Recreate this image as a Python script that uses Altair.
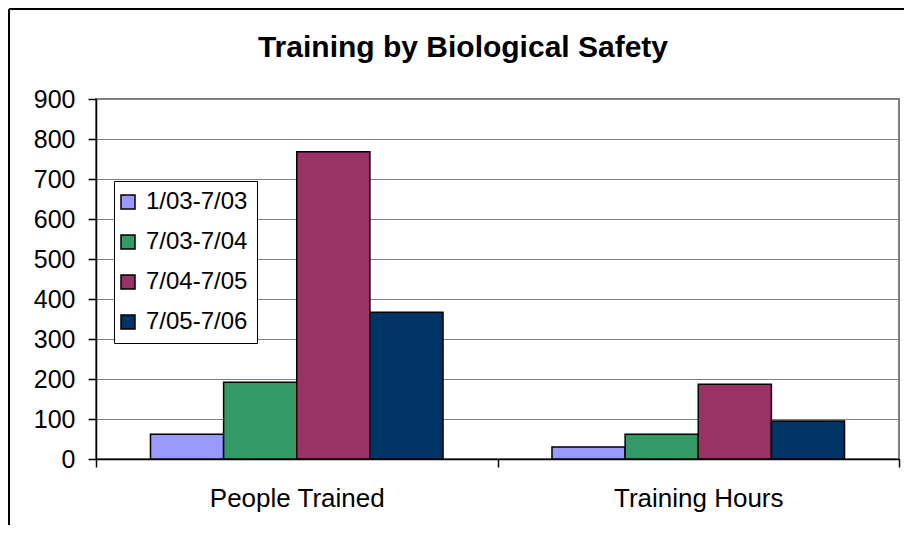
import altair as alt
import pandas as pd

title_text = ["Training by Biological Safety"]
categories = ["People Trained", "Training Hours"]
periods = ["1/03-7/03", "7/03-7/04", "7/04-7/05", "7/05-7/06"]
people_trained = [62, 192, 768, 367]
training_hours = [30, 62, 187, 95]
colors = ["#9999FF", "#339966", "#993366", "#003366"]
y_ticks = [0, 100, 200, 300, 400, 500, 600, 700, 800, 900]

rows = []
for cat, vals in zip(categories, [people_trained, training_hours]):
    for p, v in zip(periods, vals):
        rows.append({"category": cat, "period": p, "value": v})
df = pd.DataFrame(rows)

FONT = "Liberation Sans"

bars = alt.Chart(df).mark_bar(stroke="black", strokeWidth=1.5).encode(
    x=alt.X(
        "category:N",
        sort=categories,
        scale=alt.Scale(paddingInner=0, paddingOuter=0),
        axis=alt.Axis(
            title=None, labelAngle=0, tickBand="extent", grid=False,
            domainColor="black", domainWidth=1.5, tickColor="black", tickWidth=1.5,
            tickSize=8, labelFontSize=26, labelFont=FONT, labelColor="black",
            labelBaseline="alphabetic", labelPadding=39,
        ),
    ),
    xOffset=alt.XOffset(
        "period:N", sort=periods,
        scale=alt.Scale(paddingOuter=0.745, paddingInner=0),
    ),
    y=alt.Y(
        "value:Q",
        scale=alt.Scale(domain=[0, 900], nice=False),
        axis=alt.Axis(
            values=y_ticks, title=None, domainColor="black", domainWidth=1.5,
            tickColor="black", tickWidth=1.5, tickSize=8, labelFontSize=25,
            labelFont=FONT, labelColor="black", labelPadding=13,
            gridColor="#808080", gridWidth=1,
        ),
    ),
    color=alt.Color(
        "period:N", sort=periods,
        scale=alt.Scale(domain=periods, range=colors),
        legend=alt.Legend(
            title=None, orient="none", legendX=18, legendY=82,
            symbolType="square", symbolSize=196, symbolStrokeColor="black",
            symbolStrokeWidth=1.5, symbolOffset=-7, labelFontSize=24, labelFont=FONT,
            labelColor="black", rowPadding=16, padding=9, labelOffset=6,
            fillColor="white", strokeColor="black",
        ),
    ),
)

title_df = pd.DataFrame({"t": title_text})
title = alt.Chart(title_df).mark_text(
    font=FONT, fontSize=30, fontWeight="bold", color="black",
    align="center", baseline="alphabetic",
).encode(x=alt.value(367), y=alt.value(-42), text="t:N")

frame_df = pd.DataFrame({"k": [0]})
frame_top = alt.Chart(frame_df).mark_rule(color="black", strokeWidth=2).encode(
    x=alt.value(-87), x2=alt.value(812), y=alt.value(-90)
)
frame_left = alt.Chart(frame_df).mark_rule(color="black", strokeWidth=2).encode(
    x=alt.value(-87), y=alt.value(-90), y2=alt.value(430)
)

chart = alt.layer(bars, title, frame_top, frame_left).properties(
    width=803,
    height=360,
    autosize=alt.AutoSizeParams(type="none"),
    padding={"left": 88, "top": 91, "right": 5, "bottom": 66},
).configure_view(stroke="#808080", strokeWidth=2)

chart.save("out.html", embed_options={"renderer": "svg", "actions": False})
